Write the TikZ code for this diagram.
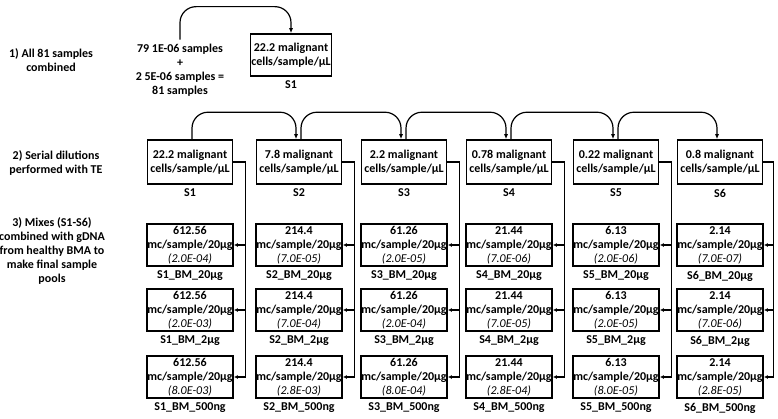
\documentclass[tikz,border=0pt]{standalone}
\usepackage{fontspec}
\setmainfont{Carlito}
\usetikzlibrary{positioning,arrows.meta}
\newcommand{\sci}[1]{{\mdseries\itshape #1}}

\begin{document}
\begin{tikzpicture}[x=1pt, y=-1pt, font=\fontsize{12}{14}\selectfont\bfseries,
    box/.style={draw, line width=1.6pt, align=center, minimum width=85pt, minimum height=42pt, inner sep=0.5pt},
    txt/.style={align=center, inner sep=1pt},
    link/.style={line width=1.2pt, -{Latex[length=4pt,width=4pt]}},
    arc/.style={line width=1.2pt, rounded corners=16pt, -{Latex[length=5pt,width=4pt]}},
    label distance=3pt, every label/.style={inner sep=1pt}]
    \useasboundingbox (0,0) rectangle (778,418);

    % step labels
    \node[txt] (step1) at (51, 60) {1) All 81 samples\\combined};
    \node[txt] (step2) at (56, 163) {2) Serial dilutions\\performed with TE};
    \node[txt] (step3) at (52, 251) {3) Mixes (S1-S6)\\combined with gDNA\\from healthy BMA to\\make final sample\\pools};

    % 1) pooling
    \node[txt, inner sep=4pt] (pool) at (180, 70) {79 1E-06 samples\\+\\2 5E-06 samples =\\81 samples};
    \node[box, minimum width=81pt, label=below:S1] (top1) at (291, 55) {22.2 malignant\\cells/sample/µL};
    \draw[arc] (pool.north) -- ++(0,-33) -| (top1.north);

    % 2) serial dilutions
    \node[box, minimum height=44pt, label=below:S1] (s1) at (190, 162) {22.2 malignant\\cells/sample/µL};
    \node[box, minimum height=44pt, label=below:S2] (s2) at (299, 162) {7.8 malignant\\cells/sample/µL};
    \node[box, minimum height=44pt, label=below:S3] (s3) at (404, 162) {2.2 malignant\\cells/sample/µL};
    \node[box, minimum height=44pt, label=below:S4] (s4) at (509, 162) {0.78 malignant\\cells/sample/µL};
    \node[box, minimum height=44pt, label=below:S5] (s5) at (616, 162) {0.22 malignant\\cells/sample/µL};
    \node[box, minimum height=44pt, label=below:S6] (s6) at (720, 162) {0.8 malignant\\cells/sample/µL};
    \draw[arc] ([xshift=2pt]s1.north) -- ++(0,-27) -| ([xshift=-3pt]s2.north);
    \draw[arc] ([xshift=2pt]s2.north) -- ++(0,-27) -| ([xshift=-3pt]s3.north);
    \draw[arc] ([xshift=2pt]s3.north) -- ++(0,-27) -| ([xshift=-3pt]s4.north);
    \draw[arc] ([xshift=2pt]s4.north) -- ++(0,-27) -| ([xshift=-3pt]s5.north);
    \draw[arc] ([xshift=2pt]s5.north) -- ++(0,-27) -| ([xshift=-3pt]s6.north);

    % 3) mixes with gDNA
    \node[box, label=below:S1\_BM\_20µg] (s1a) at (190, 245) {612.56\\mc/sample/20µg\\\sci{(2.0E-04)}};
    \node[box, label=below:S1\_BM\_2µg] (s1b) at (190, 310) {612.56\\mc/sample/20µg\\\sci{(2.0E-03)}};
    \node[box, label=below:S1\_BM\_500ng] (s1c) at (190, 377) {612.56\\mc/sample/20µg\\\sci{(8.0E-03)}};

    \node[box, label=below:S2\_BM\_20µg] (s2a) at (299, 245) {214.4\\mc/sample/20µg\\\sci{(7.0E-05)}};
    \node[box, label=below:S2\_BM\_2µg] (s2b) at (299, 310) {214.4\\mc/sample/20µg\\\sci{(7.0E-04)}};
    \node[box, label=below:S2\_BM\_500ng] (s2c) at (299, 377) {214.4\\mc/sample/20µg\\\sci{(2.8E-03)}};

    \node[box, label=below:S3\_BM\_20µg] (s3a) at (404, 245) {61.26\\mc/sample/20µg\\\sci{(2.0E-05)}};
    \node[box, label=below:S3\_BM\_2µg] (s3b) at (404, 310) {61.26\\mc/sample/20µg\\\sci{(2.0E-04)}};
    \node[box, label=below:S3\_BM\_500ng] (s3c) at (404, 377) {61.26\\mc/sample/20µg\\\sci{(8.0E-04)}};

    \node[box, label=below:S4\_BM\_20µg] (s4a) at (509, 245) {21.44\\mc/sample/20µg\\\sci{(7.0E-06)}};
    \node[box, label=below:S4\_BM\_2µg] (s4b) at (509, 310) {21.44\\mc/sample/20µg\\\sci{(7.0E-05)}};
    \node[box, label=below:S4\_BM\_500ng] (s4c) at (509, 377) {21.44\\mc/sample/20µg\\\sci{(2.8E-04)}};

    \node[box, label=below:S5\_BM\_20µg] (s5a) at (616, 245) {6.13\\mc/sample/20µg\\\sci{(2.0E-06)}};
    \node[box, label=below:S5\_BM\_2µg] (s5b) at (616, 310) {6.13\\mc/sample/20µg\\\sci{(2.0E-05)}};
    \node[box, label=below:S5\_BM\_500ng] (s5c) at (616, 377) {6.13\\mc/sample/20µg\\\sci{(8.0E-05)}};

    \node[box, label=below:S6\_BM\_20µg] (s6a) at (720, 245) {2.14\\mc/sample/20µg\\\sci{(7.0E-07)}};
    \node[box, label=below:S6\_BM\_2µg] (s6b) at (720, 310) {2.14\\mc/sample/20µg\\\sci{(7.0E-06)}};
    \node[box, label=below:S6\_BM\_500ng] (s6c) at (720, 377) {2.14\\mc/sample/20µg\\\sci{(2.8E-05)}};

    % feed lines
    \coordinate[right=12pt of s1.east] (v1);
    \coordinate[right=12pt of s2.east] (v2);
    \coordinate[right=12pt of s3.east] (v3);
    \coordinate[right=12pt of s4.east] (v4);
    \coordinate[right=12pt of s5.east] (v5);
    \coordinate[right=10pt of s6.east] (v6);

    \draw[link] (s1.east) -- (v1) |- (s1a.east);
    \draw[link] (v1) |- (s1b.east);
    \draw[link] (v1) |- (s1c.east);
    \draw[link] (s2.east) -- (v2) |- (s2a.east);
    \draw[link] (v2) |- (s2b.east);
    \draw[link] (v2) |- (s2c.east);
    \draw[link] (s3.east) -- (v3) |- (s3a.east);
    \draw[link] (v3) |- (s3b.east);
    \draw[link] (v3) |- (s3c.east);
    \draw[link] (s4.east) -- (v4) |- (s4a.east);
    \draw[link] (v4) |- (s4b.east);
    \draw[link] (v4) |- (s4c.east);
    \draw[link] (s5.east) -- (v5) |- (s5a.east);
    \draw[link] (v5) |- (s5b.east);
    \draw[link] (v5) |- (s5c.east);
    \draw[link] (s6.east) -- (v6) |- (s6a.east);
    \draw[link] (v6) |- (s6b.east);
    \draw[link] (v6) |- (s6c.east);
\end{tikzpicture}
\end{document}
